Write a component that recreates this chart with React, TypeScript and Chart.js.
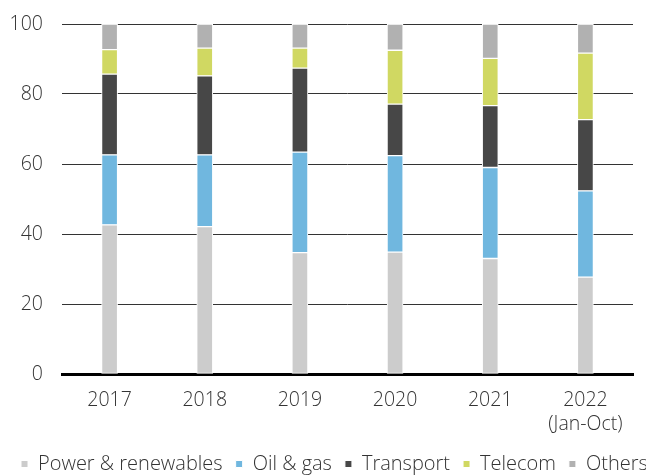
import React, { useEffect, useRef } from "react";
import { Chart, registerables } from "chart.js";

Chart.register(...registerables);

const categories: (string | string[])[] = ["2017", "2018", "2019", "2020", "2021", ["2022", "(Jan-Oct)"]];
const power = [42.6, 42.1, 34.7, 34.8, 33.0, 27.7];
const oilGas = [20.0, 20.5, 28.7, 27.6, 26.0, 24.6];
const transport = [23.1, 22.6, 24.0, 14.7, 17.7, 20.4];
const telecom = [7.0, 7.9, 5.7, 15.4, 13.5, 19.0];
const others = [7.3, 6.9, 6.9, 7.5, 9.8, 8.3];
const yTicks = [0, 20, 40, 60, 80, 100];

const FONT = "'Open Sans', 'Noto Sans', sans-serif";
const FS = 19.5;

export default function App() {
  const ref = useRef<HTMLCanvasElement | null>(null);
  useEffect(() => {
    document.body.style.margin = "0";
    if (!ref.current) return;
    const mk = (label: string, data: number[], color: string) => ({
      label,
      data,
      backgroundColor: color,
      borderColor: "#ffffff",
      borderWidth: 1,
      borderSkipped: false as const,
      barThickness: 16,
    });
    const chart = new Chart(ref.current, {
      type: "bar",
      data: {
        labels: categories,
        datasets: [
          mk("Power & renewables", power, "#cccccc"),
          mk("Oil & gas", oilGas, "#70b7df"),
          mk("Transport", transport, "#474747"),
          mk("Telecom", telecom, "#d0d862"),
          mk("Others", others, "#b1b1b1"),
        ],
      },
      options: {
        animation: false,
        responsive: false,
        devicePixelRatio: 1,
        layout: { padding: { left: 8, right: -20, top: 24, bottom: -8 } },
        plugins: {
          tooltip: { enabled: false },
          legend: {
            position: "bottom",
            align: "start",
            labels: {
              boxWidth: 7,
              boxHeight: 7,
              padding: 13,
              color: "#333",
              font: { family: FONT, size: 20, weight: 300 as any },
            },
          },
        },
        scales: {
          x: {
            stacked: true,
            grid: { display: false, drawTicks: false },
            border: { display: true, color: "#000", width: 3 },
            ticks: { color: "#333", font: { family: FONT, size: FS, weight: 300 as any }, padding: 15, maxRotation: 0 },
            afterFit: (axis: any) => {
              axis.height = 67;
            },
          },
          y: {
            stacked: true,
            min: 0,
            max: 100,
            afterBuildTicks: (axis: any) => {
              axis.ticks = yTicks.map((v) => ({ value: v }));
            },
            afterFit: (axis: any) => {
              axis.width = 54;
              axis.paddingTop = 0;
            },
            grid: { color: "#333", lineWidth: 1, drawTicks: false },
            border: { display: false },
            ticks: { color: "#333", font: { family: FONT, size: FS, weight: 300 as any }, padding: 19 },
          },
          yRight: {
            type: "linear",
            position: "right",
            display: true,
            grid: { display: false, drawTicks: false },
            border: { display: false },
            ticks: { display: false },
            afterFit: (axis: any) => {
              axis.width = 33;
            },
          },
        },
      },
    });
    return () => chart.destroy();
  }, []);
  return (
    <div style={{ position: "absolute", left: 0, top: 0, width: 646, height: 476 }}>
      <canvas ref={ref} width={646} height={476} />
    </div>
  );
}
